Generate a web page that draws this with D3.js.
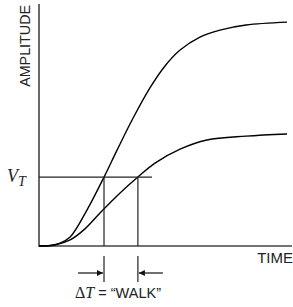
<!DOCTYPE html>
<html lang="en">
<head>
<meta charset="utf-8">
<title>Walk</title>
<script src="https://cdn.jsdelivr.net/npm/d3@7"></script>
<style>
  body { margin: 0; background: #fff; }
  .sans { font-family: "Liberation Sans", Arial, sans-serif; }
  .serif { font-family: "Liberation Serif", "Times New Roman", serif; }
</style>
</head>
<body>
<script>
// signals: [time, amplitude], 0..100 both
var fastPulse = [[0,0],[4.4,0.2],[8.4,1.2],[12.4,3.7],[19.1,14.9],[25.9,28.6],[31.1,39.8],
  [37.5,53.1],[44.2,65.6],[50.2,74.7],[56.2,81.3],[64.1,86.7],[72.1,89.6],[82.5,91.7],[98.8,92.9]];
var slowPulse = [[0,0],[6.4,0.4],[12.4,2.5],[18.3,7.1],[24.3,13.7],[32.3,22.0],[39.4,28.6],
  [46.2,34.4],[56.2,40.2],[66.9,44.0],[82.5,45.6],[98.8,46.5]];
var threshold = 28.6;
var crossTimes = [25.9, 39.4];
var thresholdEnd = 45;

var width = 293, height = 307;
var x0 = 39, x1 = 290, y0 = 246, y1 = 5;

var svg = d3.select("body").append("svg")
  .attr("width", width).attr("height", height);

var x = d3.scaleLinear().domain([0, 100]).range([x0, x1]);
var y = d3.scaleLinear().domain([0, 100]).range([y0, y1]);

// axes: plain lines, no ticks
svg.append("g").attr("transform", "translate(0," + y0 + ")")
  .call(d3.axisBottom(x).ticks(0).tickSizeOuter(0))
  .select(".domain").attr("stroke", "#444").attr("stroke-width", 1.6)
  .attr("d", "M" + x0 + ",0H292");
svg.append("g").attr("transform", "translate(" + x0 + ",0)")
  .call(d3.axisLeft(y).ticks(0).tickSizeOuter(0))
  .select(".domain").attr("stroke", "#444").attr("stroke-width", 1.6)
  .attr("d", "M0," + (y0 + 0.8) + "V4");

var line = d3.line().x(d => x(d[0])).y(d => y(d[1])).curve(d3.curveCatmullRom);

svg.selectAll("path.sig").data([fastPulse, slowPulse]).enter().append("path")
  .attr("class", "sig")
  .attr("d", line)
  .attr("fill", "none").attr("stroke", "#000").attr("stroke-width", 1.4);

// threshold line
svg.append("line")
  .attr("x1", x(0)).attr("x2", x(thresholdEnd))
  .attr("y1", y(threshold)).attr("y2", y(threshold))
  .attr("stroke", "#222").attr("stroke-width", 1.2);

// drops from crossings
svg.selectAll("line.drop").data(crossTimes).enter().append("line")
  .attr("class", "drop")
  .attr("x1", d => x(d)).attr("x2", d => x(d))
  .attr("y1", y(threshold)).attr("y2", y0)
  .attr("stroke", "#222").attr("stroke-width", 1.2);

// walk markers under axis
svg.selectAll("line.mark").data(crossTimes).enter().append("line")
  .attr("class", "mark")
  .attr("x1", d => x(d)).attr("x2", d => x(d))
  .attr("y1", 256).attr("y2", 282)
  .attr("stroke", "#222").attr("stroke-width", 1.2);

svg.append("defs").append("marker")
  .attr("id", "ah").attr("viewBox", "0 0 10 10")
  .attr("refX", 10).attr("refY", 5)
  .attr("markerWidth", 8).attr("markerHeight", 6)
  .attr("markerUnits", "userSpaceOnUse")
  .attr("orient", "auto")
  .append("path").attr("d", "M0,0L10,5L0,10Z").attr("fill", "#111");

var ay = 273;
svg.append("line")
  .attr("x1", x(crossTimes[0]) - 26).attr("x2", x(crossTimes[0]) - 1)
  .attr("y1", ay).attr("y2", ay)
  .attr("stroke", "#111").attr("stroke-width", 1.2).attr("marker-end", "url(#ah)");
svg.append("line")
  .attr("x1", x(crossTimes[1]) + 25).attr("x2", x(crossTimes[1]) + 1)
  .attr("y1", ay).attr("y2", ay)
  .attr("stroke", "#111").attr("stroke-width", 1.2).attr("marker-end", "url(#ah)");

// labels
svg.append("text").attr("class", "sans").attr("x", 293).attr("y", 263).attr("text-anchor", "end")
  .attr("font-size", 15).attr("fill", "#222").text("TIME");

svg.append("text").attr("class", "sans").attr("transform", "translate(30,5) rotate(-90)")
  .attr("text-anchor", "end").attr("font-size", 14.3).attr("fill", "#222").text("AMPLITUDE");

var vt = svg.append("text").attr("class", "serif").attr("x", 7).attr("y", 182)
  .attr("font-style", "italic").attr("font-size", 18).attr("fill", "#222");
vt.append("tspan").text("V");
vt.append("tspan").attr("font-size", 14).attr("dy", 4).text("T");

var walk = svg.append("text").attr("class", "sans").attr("x", 118).attr("y", 298).attr("text-anchor", "middle")
  .attr("font-size", 14.5).attr("fill", "#222");
walk.append("tspan").attr("class", "serif").attr("font-size", 16).text("\u0394");
walk.append("tspan").attr("class", "serif").attr("font-size", 16).attr("font-style", "italic").text("T");
walk.append("tspan").text(" = \u201CWALK\u201D");
</script>
</body>
</html>
